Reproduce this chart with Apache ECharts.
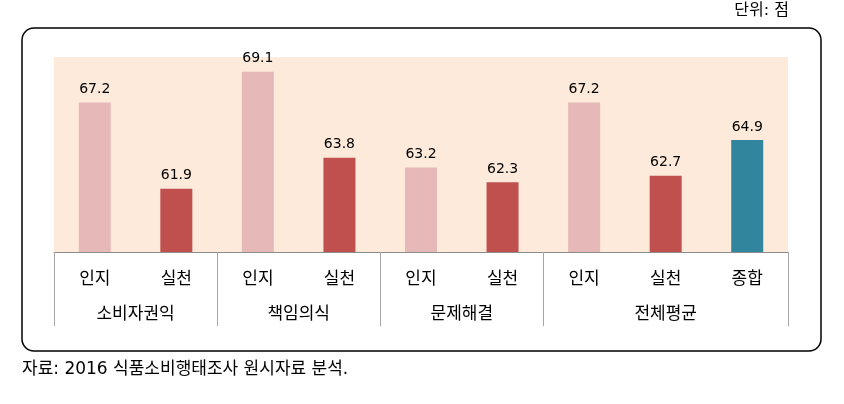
<!DOCTYPE html>
<html>
<head>
<meta charset="utf-8">
<script src="https://cdn.jsdelivr.net/npm/echarts@6/dist/echarts.min.js"></script>
<style>html,body{margin:0;padding:0;background:#fff}#c{width:844px;height:404px}</style>
</head>
<body>
<div id="c"></div>
<script>
const categories = ['인지','실천','인지','실천','인지','실천','인지','실천','종합'];
const values = [67.2, 61.9, 69.1, 63.8, 63.2, 62.3, 67.2, 62.7, 64.9];
const groupNames = ['소비자권익','책임의식','문제해결','전체평균'];
const groupCenters = [1, 3, 5, 7.5];
const barColors = ['#E6B9B8','#C0504D','#E6B9B8','#C0504D','#E6B9B8','#C0504D','#E6B9B8','#C0504D','#31859C'];
const unitText = '단위: 점';
const sourceText = '자료: 2016 식품소비행태조사 원시자료 분석.';

const kr = '"Noto Sans CJK KR", sans-serif';
const mixed = '"DejaVu Sans", "Noto Sans CJK KR", sans-serif';
const chart = echarts.init(document.getElementById('c'), null, {renderer: 'canvas'});
chart.setOption({
  animation: false,
  grid: {left: 54, right: 56, top: 57, bottom: 152, show: true, backgroundColor: '#FDEADA', borderWidth: 0},
  xAxis: [{
    type: 'category', data: categories, position: 'bottom',
    axisLine: {show: true, lineStyle: {color: '#8c8c8c', width: 1}},
    axisTick: {show: true, length: 74, interval: (i) => i % 2 === 0 && i <= 6, lineStyle: {color: '#a6a6a6'}},
    axisLabel: {margin: 17, fontSize: 17, color: '#000', fontFamily: kr, interval: 0}
  }, {
    type: 'value', min: 0, max: 9, interval: 0.5, position: 'bottom', offset: 0,
    axisLine: {show: false}, axisTick: {show: false}, splitLine: {show: false},
    axisLabel: {margin: 52, fontSize: 17, color: '#000', fontFamily: kr, showMinLabel: true, showMaxLabel: true,
      formatter: (v) => { const i = groupCenters.indexOf(v); return i >= 0 ? groupNames[i] : ''; }}
  }],
  yAxis: {type: 'value', min: 58, max: 70, show: false, splitLine: {show: false}},
  series: [{
    type: 'bar', xAxisIndex: 0, barWidth: 32,
    data: values.map((v, i) => ({value: v, itemStyle: {color: barColors[i]}})),
    label: {show: true, position: 'top', distance: 6, fontSize: 14, color: '#000', fontFamily: '"DejaVu Sans", sans-serif',
      formatter: (p) => p.value.toFixed(1)}
  }],
  graphic: [
    {type: 'rect', shape: {x: 22, y: 28, width: 799, height: 323, r: 12}, style: {fill: 'none', stroke: '#000', lineWidth: 1.5}, silent: true},
    {type: 'text', x: 789, y: 11, style: {text: unitText, align: 'right', verticalAlign: 'middle', font: '16px ' + mixed, fill: '#000'}},
    {type: 'text', x: 22, y: 370, style: {text: sourceText, align: 'left', verticalAlign: 'middle', font: '17px ' + mixed, fill: '#000'}}
  ]
});
</script>
</body>
</html>
